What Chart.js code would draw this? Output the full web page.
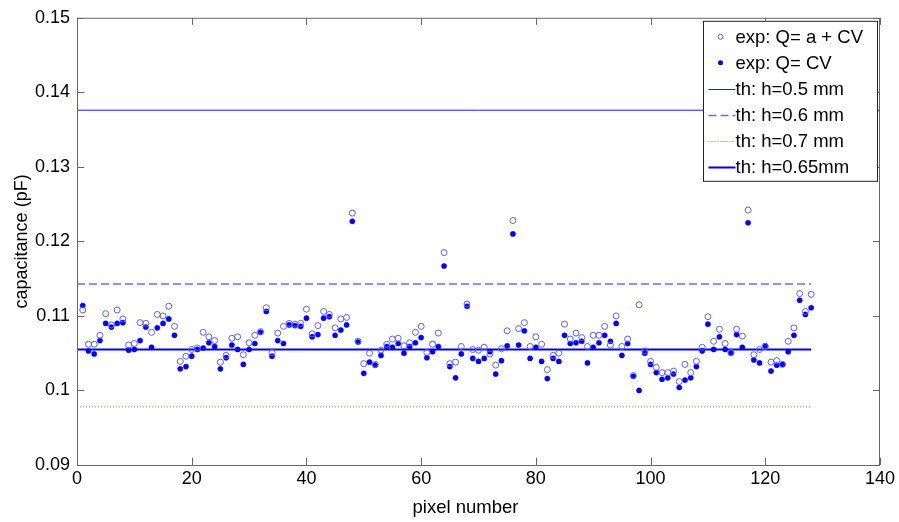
<!DOCTYPE html>
<html lang="en">
<head>
  <meta charset="UTF-8" />
  <title>Capacitance per pixel</title>
  <script src="https://cdn.jsdelivr.net/npm/chart.js"></script>
  <style>
    body { margin: 0; background: #fff; }
    #wrap { width: 899px; height: 522px; }
  </style>
</head>
<body>
  <div id="wrap"><canvas id="capChart" width="899" height="522"></canvas></div>

  <script>
    // measured capacitance per pixel (pF), two extraction models
    const capOffset = [
      0.1108, 0.1062, 0.1062, 0.1074, 0.1103, 0.1088, 0.1108, 0.1096, 0.1061, 0.1063,
      0.1091, 0.1090, 0.1078, 0.1102, 0.1100, 0.1113, 0.1086, 0.1039, 0.1046, 0.1055,
      0.1057, 0.1078, 0.1072, 0.1067, 0.1038, 0.1047, 0.1070, 0.1072, 0.1048, 0.1064,
      0.1074, 0.1079, 0.1111, 0.1051, 0.1077, 0.1086, 0.1090, 0.1089, 0.1090, 0.1109,
      0.1076, 0.1087, 0.1106, 0.1102, 0.1084, 0.1096, 0.1098, 0.1238, 0.1066, 0.1036,
      0.1050, 0.1035, 0.1054, 0.1062, 0.1069, 0.1070, 0.1060, 0.1064, 0.1078, 0.1086,
      0.1051, 0.1062, 0.1077, 0.1185, 0.1036, 0.1038, 0.1059, 0.1116, 0.1055, 0.1054,
      0.1058, 0.1049, 0.1034, 0.1056, 0.1080, 0.1228, 0.1083, 0.1091, 0.1059, 0.1072,
      0.1062, 0.1028, 0.1047, 0.1050, 0.1089, 0.1069, 0.1077, 0.1071, 0.1059, 0.1074,
      0.1074, 0.1086, 0.1061, 0.1100, 0.1059, 0.1069, 0.1020, 0.1115, 0.1053, 0.1039,
      0.1031, 0.1024, 0.1024, 0.1026, 0.1012, 0.1035, 0.1024, 0.1039, 0.1058, 0.1099,
      0.1066, 0.1082, 0.1063, 0.1051, 0.1082, 0.1073, 0.1242, 0.1048, 0.1055, 0.1059,
      0.1038, 0.1040, 0.1035, 0.1066, 0.1084, 0.1130, 0.1106, 0.1129
    ];
    const capPlain = [
      0.1114, 0.1053, 0.1049, 0.1067, 0.1090, 0.1085, 0.1090, 0.1091, 0.1054, 0.1055,
      0.1067, 0.1085, 0.1058, 0.1084, 0.1090, 0.1096, 0.1074, 0.1029, 0.1032, 0.1046,
      0.1055, 0.1057, 0.1064, 0.1059, 0.1029, 0.1044, 0.1061, 0.1055, 0.1035, 0.1055,
      0.1063, 0.1078, 0.1106, 0.1046, 0.1067, 0.1063, 0.1088, 0.1087, 0.1086, 0.1097,
      0.1072, 0.1075, 0.1097, 0.1099, 0.1074, 0.1081, 0.1088, 0.1227, 0.1065, 0.1023,
      0.1038, 0.1034, 0.1047, 0.1059, 0.1058, 0.1063, 0.1050, 0.1059, 0.1064, 0.1071,
      0.1044, 0.1052, 0.1059, 0.1167, 0.1032, 0.1017, 0.1049, 0.1113, 0.1043, 0.1039,
      0.1043, 0.1052, 0.1022, 0.1040, 0.1060, 0.1210, 0.1061, 0.1080, 0.1043, 0.1058,
      0.1039, 0.1016, 0.1043, 0.1039, 0.1074, 0.1063, 0.1064, 0.1066, 0.1037, 0.1058,
      0.1064, 0.1074, 0.1066, 0.1090, 0.1047, 0.1063, 0.1019, 0.1000, 0.1050, 0.1035,
      0.1024, 0.1015, 0.1017, 0.1022, 0.1004, 0.1014, 0.1017, 0.1032, 0.1053, 0.1089,
      0.1055, 0.1072, 0.1055, 0.1050, 0.1075, 0.1058, 0.1225, 0.1041, 0.1037, 0.1060,
      0.1026, 0.1034, 0.1035, 0.1052, 0.1074, 0.1121, 0.1102, 0.1111
    ];
    const pixels = capOffset.map((_, i) => i + 1);

    // theoretical levels for a few electrode heights
    const thLabels = ['th: h=0.5 mm', 'th: h=0.6 mm', 'th: h=0.7 mm', 'th: h=0.65mm'];
    const thValues = [0.1376, 0.1143, 0.0978, 0.1055];
    const thFrom = [0, 0, 0, 0];
    const thTo = [140, 128, 128, 128];

    const xTicks = [0, 20, 40, 60, 80, 100, 120, 140];
    const yTicks = [0.09, 0.10, 0.11, 0.12, 0.13, 0.14, 0.15];
    const yTickLabels = ['0.09', '0.1', '0.11', '0.12', '0.13', '0.14', '0.15'];
    const xTitle = 'pixel number';

    const FONT = "'Liberation Sans', Arial, Helvetica, sans-serif";
    const AXIS_COLOR = '#666';

    const thStyles = [
      { color: '#1c1cf0', width: 1, dash: [] },
      { color: '#6a6aff', width: 1.5, dash: [8, 4] },
      { color: '#7a7aff', width: 1, dash: [1, 2] },
      { color: '#0000ff', width: 2, dash: [] }
    ];

    const datasets = [
      {
        label: 'exp: Q= a + CV',
        data: pixels.map((p, i) => ({ x: p, y: capOffset[i] })),
        showLine: false,
        pointStyle: 'circle',
        pointRadius: 3,
        pointBorderWidth: 1,
        pointBorderColor: '#5b5bff',
        pointBackgroundColor: 'rgba(0,0,0,0)',
        marker: 'open'
      },
      {
        label: 'exp: Q= CV',
        data: pixels.map((p, i) => ({ x: p, y: capPlain[i] })),
        showLine: false,
        pointStyle: 'circle',
        pointRadius: 2.6,
        pointBorderWidth: 0.5,
        pointBorderColor: '#0000ff',
        pointBackgroundColor: '#0000ff',
        marker: 'dot'
      }
    ];
    thLabels.forEach((label, i) => {
      datasets.push({
        label,
        data: [{ x: thFrom[i], y: thValues[i] }, { x: thTo[i], y: thValues[i] }],
        showLine: true,
        pointRadius: 0,
        borderColor: thStyles[i].color,
        borderWidth: thStyles[i].width,
        borderDash: thStyles[i].dash,
        marker: 'line'
      });
    });

    // axes box with inward ticks on all four sides, plus the x label
    const axesBox = {
      id: 'axesBox',
      afterDatasetsDraw(chart) {
        const { ctx, chartArea: a, scales } = chart;
        const tick = 7;
        ctx.save();
        ctx.strokeStyle = AXIS_COLOR;
        ctx.lineWidth = 1;
        ctx.strokeRect(a.left + 0.5, a.top + 0.5, a.right - a.left - 1, a.bottom - a.top);
        ctx.beginPath();
        xTicks.forEach(v => {
          const x = Math.round(scales.x.getPixelForValue(v)) + 0.5;
          ctx.moveTo(x, a.bottom); ctx.lineTo(x, a.bottom - tick);
          ctx.moveTo(x, a.top); ctx.lineTo(x, a.top + tick);
        });
        yTicks.forEach(v => {
          const y = Math.round(scales.y.getPixelForValue(v)) + 0.5;
          ctx.moveTo(a.left, y); ctx.lineTo(a.left + tick, y);
          ctx.moveTo(a.right, y); ctx.lineTo(a.right - tick, y);
        });
        ctx.stroke();

        // matlab puts the xlabel a little left of the axes centre
        ctx.font = '18.5px ' + FONT;
        ctx.fillStyle = '#000';
        ctx.textAlign = 'center';
        ctx.textBaseline = 'middle';
        ctx.fillText(xTitle, (a.left + a.right) / 2 - 13, chart.height - 14);
        ctx.restore();
      }
    };

    // boxed legend in the upper right corner
    const boxLegend = {
      id: 'boxLegend',
      afterDraw(chart) {
        const { ctx, chartArea: a } = chart;
        const sets = chart.data.datasets;
        const rowH = 26, sample = 30, pad = 14;
        ctx.save();
        ctx.font = '18.5px ' + FONT;
        const textW = Math.max(...sets.map(d => ctx.measureText(d.label).width));
        const w = sample + 2 + textW + pad;
        const h = rowH * sets.length + 4;
        const x0 = a.right - 3 - w;
        const y0 = a.top + 3;
        ctx.fillStyle = '#fff';
        ctx.fillRect(x0, y0, w, h);
        ctx.strokeStyle = '#222';
        ctx.lineWidth = 1;
        ctx.strokeRect(Math.round(x0) + 0.5, y0 + 0.5, Math.round(w), h);
        sets.forEach((d, i) => {
          const cy = y0 + 16 + i * rowH;
          const mx = x0 + 17;
          if (d.marker === 'open') {
            ctx.beginPath();
            ctx.arc(mx, cy, 2.5, 0, Math.PI * 2);
            ctx.strokeStyle = d.pointBorderColor;
            ctx.lineWidth = 1;
            ctx.stroke();
          } else if (d.marker === 'dot') {
            ctx.beginPath();
            ctx.arc(mx, cy, 2.5, 0, Math.PI * 2);
            ctx.fillStyle = d.pointBackgroundColor;
            ctx.fill();
          } else {
            ctx.beginPath();
            ctx.setLineDash(d.borderDash);
            ctx.strokeStyle = d.borderColor;
            ctx.lineWidth = d.borderWidth;
            ctx.moveTo(x0 + 5, Math.round(cy) + 0.5);
            ctx.lineTo(x0 + sample + 2, Math.round(cy) + 0.5);
            ctx.stroke();
            ctx.setLineDash([]);
          }
          ctx.fillStyle = '#000';
          ctx.textBaseline = 'middle';
          ctx.textAlign = 'left';
          ctx.fillText(d.label, x0 + sample + 2, cy + 1);
        });
        ctx.restore();
      }
    };

    new Chart(document.getElementById('capChart'), {
      type: 'scatter',
      data: { datasets },
      plugins: [axesBox, boxLegend],
      options: {
        responsive: false,
        animation: false,
        layout: { padding: { top: 14, right: 19, left: 0, bottom: 0 } },
        plugins: { legend: { display: false }, tooltip: { enabled: false } },
        scales: {
          x: {
            type: 'linear',
            min: 0,
            max: 140,
            afterBuildTicks: s => { s.ticks = xTicks.map(v => ({ value: v })); },
            afterFit: s => { s.height = 57; },
            grid: { display: false, drawTicks: false },
            border: { display: false },
            ticks: { color: '#000', padding: 3, font: { family: FONT, size: 18 }, callback: v => String(v) }
          },
          y: {
            type: 'linear',
            min: 0.09,
            max: 0.15,
            afterBuildTicks: s => { s.ticks = yTicks.map(v => ({ value: v })); },
            afterFit: s => { s.width = 77; },
            grid: { display: false, drawTicks: false },
            border: { display: false },
            ticks: { color: '#000', padding: 7, font: { family: FONT, size: 18 }, callback: (v, i) => yTickLabels[i] },
            title: {
              display: true,
              text: 'capacitance (pF)',
              color: '#000',
              font: { family: FONT, size: 18 },
              padding: { top: 11, bottom: 0 }
            }
          }
        }
      }
    });
  </script>
</body>
</html>
